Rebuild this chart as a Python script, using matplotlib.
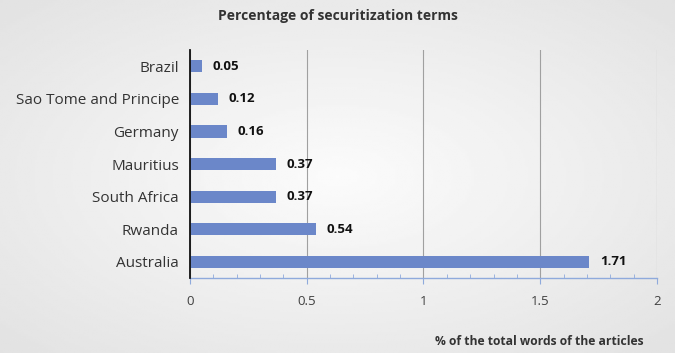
import matplotlib.pyplot as plt
import numpy as np
from matplotlib.ticker import MultipleLocator

countries = ["Brazil", "Sao Tome and Principe", "Germany", "Mauritius",
             "South Africa", "Rwanda", "Australia"]
values = [0.05, 0.12, 0.16, 0.37, 0.37, 0.54, 1.71]
value_labels = ["0.05", "0.12", "0.16", "0.37", "0.37", "0.54", "1.71"]
xticks = [0, 0.5, 1, 1.5, 2]
xtick_labels = ["0", "0.5", "1", "1.5", "2"]

plt.rcParams['font.family'] = ['Open Sans', 'DejaVu Sans']

fig = plt.figure(figsize=(6.75, 3.53), dpi=100)
# background gradient
bg = fig.add_axes([0, 0, 1, 1], zorder=-10)
xx, yy = np.meshgrid(np.linspace(-1, 1, 300), np.linspace(-1, 1, 160))
r = np.sqrt(xx**2 * 0.6 + yy**2 * 0.6)
grad = 0.985 - 0.09 * r
bg.imshow(grad, cmap='gray', vmin=0, vmax=1, aspect='auto', extent=[0, 1, 0, 1])
bg.axis('off')

ax = fig.add_axes([0.2815, 0.2125, 0.9733 - 0.2815, 0.858 - 0.2125])
ax.patch.set_alpha(0)
y = np.arange(len(countries))
ax.barh(y, values, height=0.37, color='#6b87c9', zorder=3)
ax.set_ylim(len(countries) - 0.5, -0.5)
ax.set_xlim(0, 2)
ax.set_yticks(y)
ax.set_yticklabels(countries, fontsize=11, color='#333333')
ax.set_xticks(xticks)
ax.set_xticklabels(xtick_labels, fontsize=9.5, color='#404040')
ax.xaxis.set_minor_locator(MultipleLocator(0.1))
ax.tick_params(axis='y', length=0, pad=8)
ax.tick_params(axis='x', which='major', length=4, color='#8faadc', pad=8, direction='out')
ax.tick_params(axis='x', which='minor', length=3, color='#8faadc', direction='in')
ax.grid(axis='x', color='#a0a0a0', linewidth=0.8, zorder=0)
for s in ['top', 'right']:
    ax.spines[s].set_visible(False)
ax.spines['left'].set_color('#111111')
ax.spines['left'].set_linewidth(1.3)
ax.spines['left'].set_zorder(4)
ax.spines['bottom'].set_color('#8faadc')
ax.spines['bottom'].set_linewidth(1.0)

for yi, v, lab in zip(y, values, value_labels):
    ax.text(v + 0.045, yi, lab, va='center', ha='left', fontsize=9.5, fontweight='bold', color='#111111')

fig.text(0.5, 0.955, "Percentage of securitization terms", ha='center', va='center',
         fontsize=10, fontweight='bold', color='#333333')
fig.text(0.953, 0.033, "% of the total words of the articles", ha='right', va='center',
         fontsize=8.75, fontweight='bold', color='#333333')

fig.savefig('out.png', dpi=100)
